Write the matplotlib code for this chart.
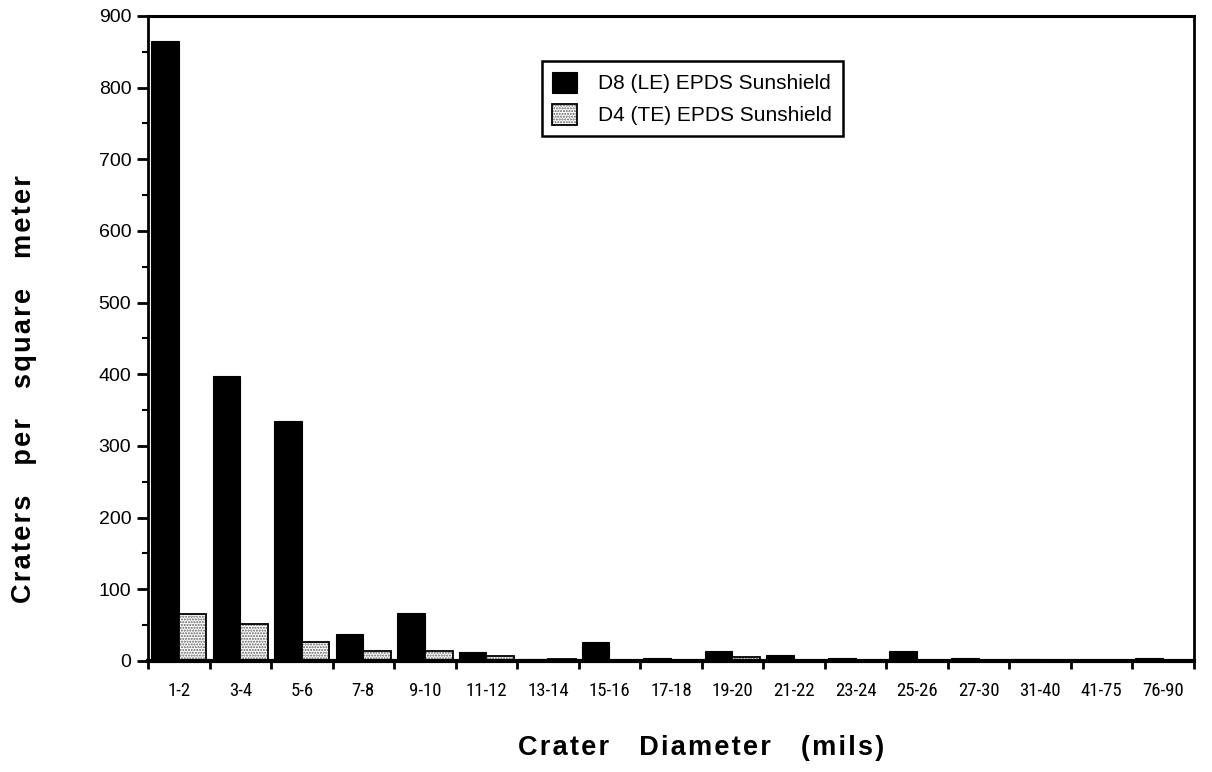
import matplotlib.pyplot as plt
import numpy as np
from matplotlib.ticker import MultipleLocator

categories = ['1-2', '3-4', '5-6', '7-8', '9-10', '11-12', '13-14', '15-16', '17-18',
              '19-20', '21-22', '23-24', '25-26', '27-30', '31-40', '41-75', '76-90']
d8_le = [865, 398, 335, 37, 67, 13, 3, 27, 4, 14, 8, 4, 14, 4, 3, 1, 4]
d4_te = [65, 51, 27, 14, 14, 7, 3, 1, 2, 5, 0.5, 0.5, 1.5, 1, 1, 1, 0.5]

plt.rcParams['font.family'] = ['Liberation Sans', 'DejaVu Sans']


def spaced(s):
    # slight tracking like the old typeset labels
    return '    '.join('\u200a'.join(word) for word in s.split())


fig = plt.figure(figsize=(12.12, 7.72), dpi=100)
ax = fig.add_axes([0.1221, 0.1438, 0.863, 0.8355])

x = np.arange(len(categories))
w = 0.45
b1 = ax.bar(x - 0.45 + w / 2, d8_le, w, color='black', edgecolor='black', linewidth=0.8)
b2 = ax.bar(x + w / 2, d4_te, w, color='white', edgecolor='#606060',
            hatch='......', linewidth=0)
b3 = ax.bar(x + w / 2, d4_te, w, fill=False, edgecolor='black', linewidth=1.3)

ax.set_xlim(-0.5, len(categories) - 0.5)
ax.set_ylim(0, 900)
ax.yaxis.set_major_locator(MultipleLocator(100))
ax.yaxis.set_minor_locator(MultipleLocator(50))
ax.tick_params(axis='y', which='major', direction='out', length=8, width=2, labelsize=14, pad=4)
ax.tick_params(axis='y', which='minor', direction='out', length=4, width=1.5)

ax.set_xticks(x)
ax.set_xticklabels(categories, fontsize=13.5,
                   family=['Roboto Condensed', 'Liberation Sans Narrow', 'Liberation Sans'])
ax.set_xticks(np.arange(-0.5, len(categories) + 0.5, 1), minor=True)
ax.tick_params(axis='x', which='major', length=0, pad=15)
ax.tick_params(axis='x', which='minor', direction='out', length=6, width=2)

ax.spines['left'].set_linewidth(2)
ax.spines['bottom'].set_linewidth(3)
ax.spines['top'].set_linewidth(2.2)
ax.spines['right'].set_linewidth(2)

fig.text(0.4274, 0.031, spaced('Crater Diameter (mils)'), fontsize=19.5, fontweight='bold',
         ha='left', va='center')
fig.text(0.0202, 0.219, spaced('Craters per square meter'), fontsize=19.5, fontweight='bold',
         rotation=90, ha='center', va='bottom')

leg = ax.legend([b1, (b2, b3)], ['D8 (LE) EPDS Sunshield', 'D4 (TE) EPDS Sunshield'],
                loc='upper left', bbox_to_anchor=(0.3767, 0.930), borderaxespad=0,
                fontsize=15, handlelength=1.2, handleheight=1.2, handletextpad=1.0,
                borderpad=0.5, labelspacing=0.5, fancybox=False, framealpha=1)
leg.get_frame().set_edgecolor('black')
leg.get_frame().set_linewidth(1.8)

plt.savefig('out.png', dpi=100)
plt.close()
